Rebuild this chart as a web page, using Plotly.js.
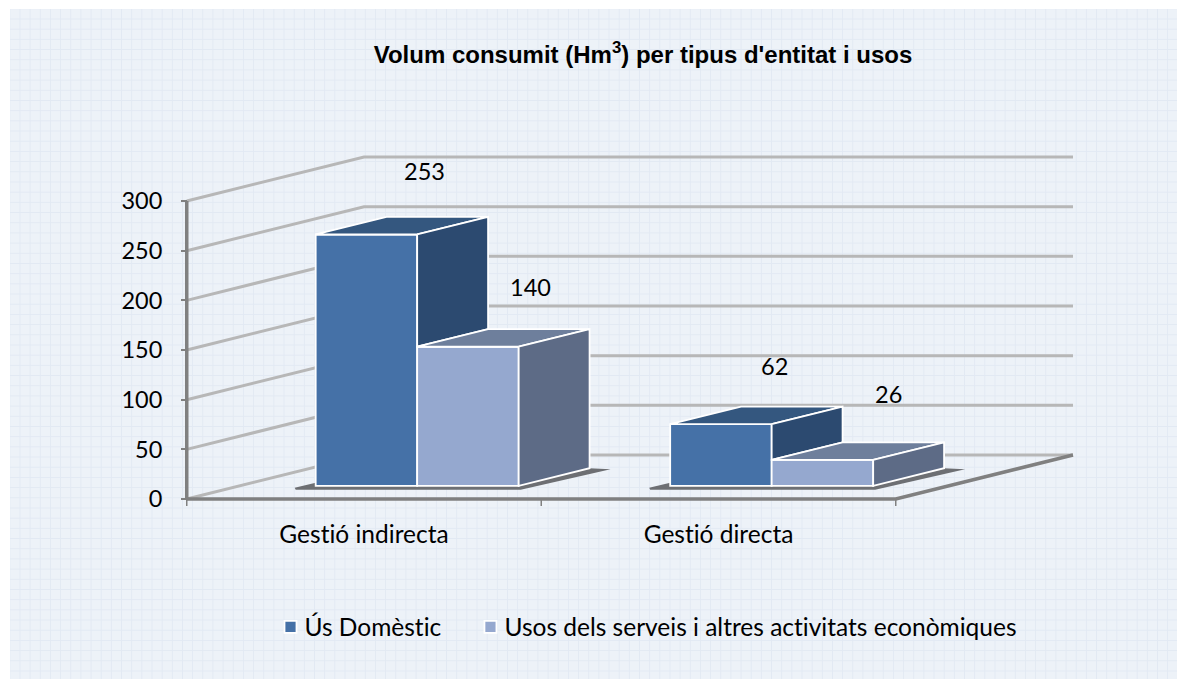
<!DOCTYPE html>
<html><head><meta charset="utf-8">
<script src="https://cdn.plot.ly/plotly-3.0.1.min.js"></script>
<style>
html,body{margin:0;padding:0;background:#fff;width:1177px;height:679px;overflow:hidden}
#panel{position:absolute;left:10px;top:9px;width:1167px;height:670px;background-color:#edf2f8;
background-image:linear-gradient(to right,#e2e9f3 1px,transparent 1px),linear-gradient(to bottom,#e2e9f3 1px,transparent 1px);
background-size:10.17px 10.2px;background-position:9.5px 9.5px}
#chart{position:absolute;left:0;top:0;width:1177px;height:679px}
.main-svg text{font-variant-ligatures:none;font-feature-settings:"liga" 0}
</style></head><body>
<div id="panel"></div><div id="chart"></div>
<script>
const categories = ['Gestió indirecta', 'Gestió directa'];
const domestic = [253, 62];
const services = [140, 26];
const seriesNames = ['Ús Domèstic', 'Usos dels serveis i altres activitats econòmiques'];
const yTicks = [0, 50, 100, 150, 200, 250, 300];

// chart geometry
const W = 1177, H = 679;
const L = 170, R = 1095, T = 140, B = 512;
const pxPerCat = 354.5, pxPerVal = 0.9933, cat0px = 364, zeroPx = 499;
const xr = p => (p - cat0px) / pxPerCat;
const yr = p => (zeroPx - p) / pxPerVal;
const dX = 0.5, dY = 44.3, d0 = 0.3, d1 = 0.7;
const barW = 101.5 / pxPerCat;
const xIdx = categories.map((_, i) => i);
const X0 = -0.5, X1 = categories.length - 0.5;
const dx = p => p / pxPerCat, dy = p => p / pxPerVal;

const colors = {
  a: {front: '#4571a7', side: '#2c4a70', top: '#34577f'},
  b: {front: '#95a8cf', side: '#5d6b86', top: '#6e7f9c'}
};
const font = 'Lato, Carlito, Calibri, sans-serif';

const P = (x, v, d) => [x + d * dX, v + d * dY];
function poly(pts, fill) {
  const c = pts.concat([pts[0]]);
  return {type: 'scatter', mode: 'lines', x: c.map(p => p[0]), y: c.map(p => p[1]),
    fill: 'toself', fillcolor: fill, line: {color: '#ffffff', width: 1.8},
    hoverinfo: 'skip', showlegend: false, cliponaxis: false};
}

const traces = [];
traces.push({type: 'bar', name: seriesNames[0], x: xIdx, y: domestic,
  base: xIdx.map(() => d0 * dY), width: xIdx.map(() => barW), offset: xIdx.map(() => d0 * dX - barW),
  marker: {color: colors.a.front, line: {color: '#ffffff', width: 1.8}}});
traces.push({type: 'bar', name: seriesNames[1], x: xIdx, y: services,
  base: xIdx.map(() => d0 * dY), width: xIdx.map(() => barW), offset: xIdx.map(() => d0 * dX),
  marker: {color: colors.b.front, line: {color: '#ffffff', width: 1.8}}});

xIdx.forEach(i => {
  const lA = i - barW, m = i, rB = i + barW;
  const a = domestic[i], b = services[i];
  traces.push(poly([P(lA, a, d0), P(m, a, d0), P(m, a, d1), P(lA, a, d1)], colors.a.top));
  traces.push(poly([P(m, a, d0), P(m, a, d1), P(m, b, d1), P(m, b, d0)], colors.a.side));
  traces.push(poly([P(m, b, d0), P(rB, b, d0), P(rB, b, d1), P(m, b, d1)], colors.b.top));
  traces.push(poly([P(rB, b, d0), P(rB, b, d1), P(rB, 0, d1), P(rB, 0, d0)], colors.b.side));
});

// wall grid, floor and axis lines
const shapes = [];
const path = (pts) => 'M' + pts.map(p => p[0] + ',' + p[1]).join(' L');
yTicks.forEach(v => {
  shapes.push({type: 'path', layer: 'below', xref: 'x', yref: 'y',
    path: path([[X0, v], P(X0, v, 1), P(X1, v, 1)]),
    line: {color: '#b7b7b7', width: 3}});
});
const axisLine = (pts, w) => shapes.push({type: 'path', layer: 'below', xref: 'x', yref: 'y',
  path: path(pts), line: {color: '#808080', width: w}});
xIdx.forEach(i => {
  const s = dx(21), lf = i - barW, rt = i + barW;
  const a = P(lf, 0, d0), b = P(rt, 0, d0), c = P(rt, 0, d1);
  shapes.push({type: 'path', layer: 'below', xref: 'x', yref: 'y',
    path: path([[a[0] - s, a[1] - dy(2)], [a[0], a[1] + dy(3)], c, [c[0] + s, c[1] + dy(2) - dy(3)],
      [b[0] + dx(2), b[1] - dy(4)], [a[0] - s + dx(1), a[1] - dy(4)]]) + ' Z',
    fillcolor: '#6d6f73', line: {width: 0}});
});
axisLine([[X0, 0], [X0, 300]], 3.5);
axisLine([[X0, 0], [X1, 0], P(X1, 0, 1)], 3.5);
[X0, X0 + 1, X1].forEach(x => axisLine([[x, 0], [x, -dy(7)]], 1.5));

const annotations = [];
const labelNudgeX = [-1, 3, -6, 7], labelNudgeY = [2, -1, -3, 5];
xIdx.forEach(i => {
  [domestic[i], services[i]].forEach((v, s) => {
    const k = i * 2 + s;
    const left = i - barW + s * barW;
    annotations.push({x: left + d0 * dX + dx(110), y: v + d0 * dY + dy(61), text: String(v),
      showarrow: false, xanchor: 'center', yanchor: 'middle',
      xshift: labelNudgeX[k], yshift: labelNudgeY[k],
      font: {family: font, size: 23.5, color: '#000'}});
  });
});

const layout = {
  width: W, height: H, autosize: false,
  margin: {l: L, r: W - R, t: T, b: H - B, pad: 0},
  paper_bgcolor: 'rgba(0,0,0,0)', plot_bgcolor: 'rgba(0,0,0,0)',
  barmode: 'overlay',
  title: {text: "Volum consumit (Hm<sup>3</sup>) per tipus d'entitat i usos",
    font: {family: 'Liberation Sans, Arial, sans-serif', size: 24, color: '#000', weight: 700},
    xref: 'container', yref: 'container', x: 643 / W, y: 1 - 55 / H, xanchor: 'center', yanchor: 'middle'},
  xaxis: {type: 'linear', range: [xr(L), xr(R)], tickmode: 'array', tickvals: xIdx, ticktext: categories,
    showgrid: false, zeroline: false, showline: false, ticks: '', fixedrange: true,
    tickfont: {family: font, size: 24.5, color: '#000'}, ticklabelstandoff: 5},
  yaxis: {type: 'linear', range: [yr(B), yr(T)], tickmode: 'array', tickvals: yTicks,
    anchor: 'free', position: (187 - L) / (R - L), showgrid: false, zeroline: false, showline: false,
    ticks: 'outside', ticklen: 6, tickwidth: 1.5, tickcolor: '#808080', fixedrange: true,
    ticklabelstandoff: 14,
    tickfont: {family: font, size: 23.5, color: '#000'}},
  shapes, annotations,
  showlegend: true,
  legend: {orientation: 'h', x: 264.5 / W, y: 1 - 627 / H, xref: 'container', yref: 'container', xanchor: 'left', yanchor: 'middle',
    font: {family: font, size: 24.5, color: '#000'}, bgcolor: 'rgba(0,0,0,0)', traceorder: 'normal'},
  hovermode: false
};
Plotly.newPlot('chart', traces, layout, {displayModeBar: false, responsive: false}).then(gd => {
  // match the reference's legend spacing: swatches closer to their text, wider gap between entries
  const scroll = gd.querySelector('.legend .scrollbox');
  if (scroll) scroll.removeAttribute('clip-path');
  const bg = gd.querySelector('.legend');
  if (bg) bg.removeAttribute('clip-path');
  gd.querySelectorAll('.legend .traces').forEach((g, i) => {
    const pts = g.querySelector('.legendpoints');
    if (pts) pts.setAttribute('transform', 'translate(6,0)');
    if (i === 1) {
      const m = /translate\(([-\d.]+)[ ,]*([-\d.]*)\)/.exec(g.getAttribute('transform') || '');
      if (m) g.setAttribute('transform', 'translate(' + (parseFloat(m[1]) + 17.5) + ',' + (parseFloat(m[2]) || 0) + ')');
    }
  });
});
</script>
</body></html>
